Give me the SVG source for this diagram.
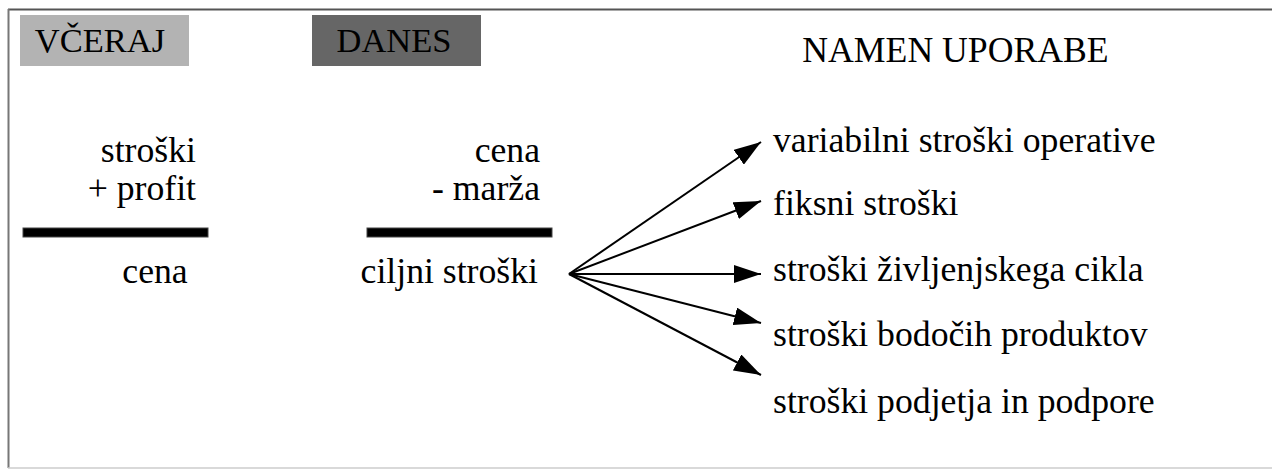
<svg xmlns="http://www.w3.org/2000/svg" width="1272" height="469" viewBox="0 0 1272 469" font-family="Liberation Serif">
  <style>
    text { font-size: 35.7px; fill: #000; }
    .title { font-size: 34.5px; }
    .r { text-anchor: end; }
    .c { text-anchor: middle; }
    .bar { fill: #000; stroke: #444; stroke-width: 1; }
    .conn line { stroke: #000; stroke-width: 2; }
  </style>
  <defs>
    <marker id="arrow" viewBox="0 0 27 18" refX="27" refY="9" markerWidth="27" markerHeight="18" markerUnits="userSpaceOnUse" orient="auto">
      <path d="M0,0 L27,9 L0,18 Z" fill="#000"/>
    </marker>
  </defs>
  <rect x="0" y="0" width="1272" height="469" fill="#fff"/>
  <!-- frame -->
  <line x1="8" y1="9.5" x2="1272" y2="9.5" stroke="#555" stroke-width="2"/>
  <line x1="8.5" y1="9" x2="8.5" y2="468" stroke="#777" stroke-width="2"/>
  <line x1="8" y1="468" x2="1272" y2="468" stroke="#ccc" stroke-width="1.5"/>

  <g id="vceraj">
    <rect x="20" y="15" width="169" height="51" fill="#b3b3b3"/>
    <text class="c title" x="100" y="52" font-family="Liberation Serif">VČERAJ</text>
  </g>
  <g id="danes">
    <rect x="312" y="15" width="169" height="51" fill="#666666"/>
    <text class="c title" x="394" y="52" font-family="Liberation Serif">DANES</text>
  </g>
  <g id="namen">
    <text class="c" x="955.5" y="62" font-family="Liberation Serif">NAMEN UPORABE</text>
  </g>

  <g id="vceraj-formula">
    <text class="r" x="196" y="162" font-family="Liberation Serif">stroški</text>
    <text class="r" x="196" y="200" font-family="Liberation Serif">+ profit</text>
    <rect class="bar" x="23" y="228" width="185" height="9"/>
    <text class="c" x="155" y="283" font-family="Liberation Serif">cena</text>
  </g>
  <g id="danes-formula">
    <text class="r" x="540" y="162" font-family="Liberation Serif">cena</text>
    <text class="r" x="540" y="200" font-family="Liberation Serif">- marža</text>
    <rect class="bar" x="367" y="228" width="185" height="9"/>
    <text class="r" x="538" y="283" font-family="Liberation Serif">ciljni stroški</text>
  </g>

  <g class="conn" id="connectors">
    <line x1="569" y1="274" x2="761" y2="142" marker-end="url(#arrow)"/>
    <line x1="569" y1="274" x2="761" y2="201" marker-end="url(#arrow)"/>
    <line x1="569" y1="274" x2="761" y2="274" marker-end="url(#arrow)"/>
    <line x1="569" y1="274" x2="761" y2="323" marker-end="url(#arrow)"/>
    <line x1="569" y1="274" x2="761" y2="375" marker-end="url(#arrow)"/>
  </g>

  <g id="uses">
    <text x="773" y="152" font-family="Liberation Serif">variabilni stroški operative</text>
    <text x="773" y="215" font-family="Liberation Serif">fiksni stroški</text>
    <text x="773" y="281" font-family="Liberation Serif">stroški življenjskega cikla</text>
    <text x="773" y="346" font-family="Liberation Serif">stroški bodočih produktov</text>
    <text x="773" y="413" font-family="Liberation Serif">stroški podjetja in podpore</text>
  </g>
</svg>
